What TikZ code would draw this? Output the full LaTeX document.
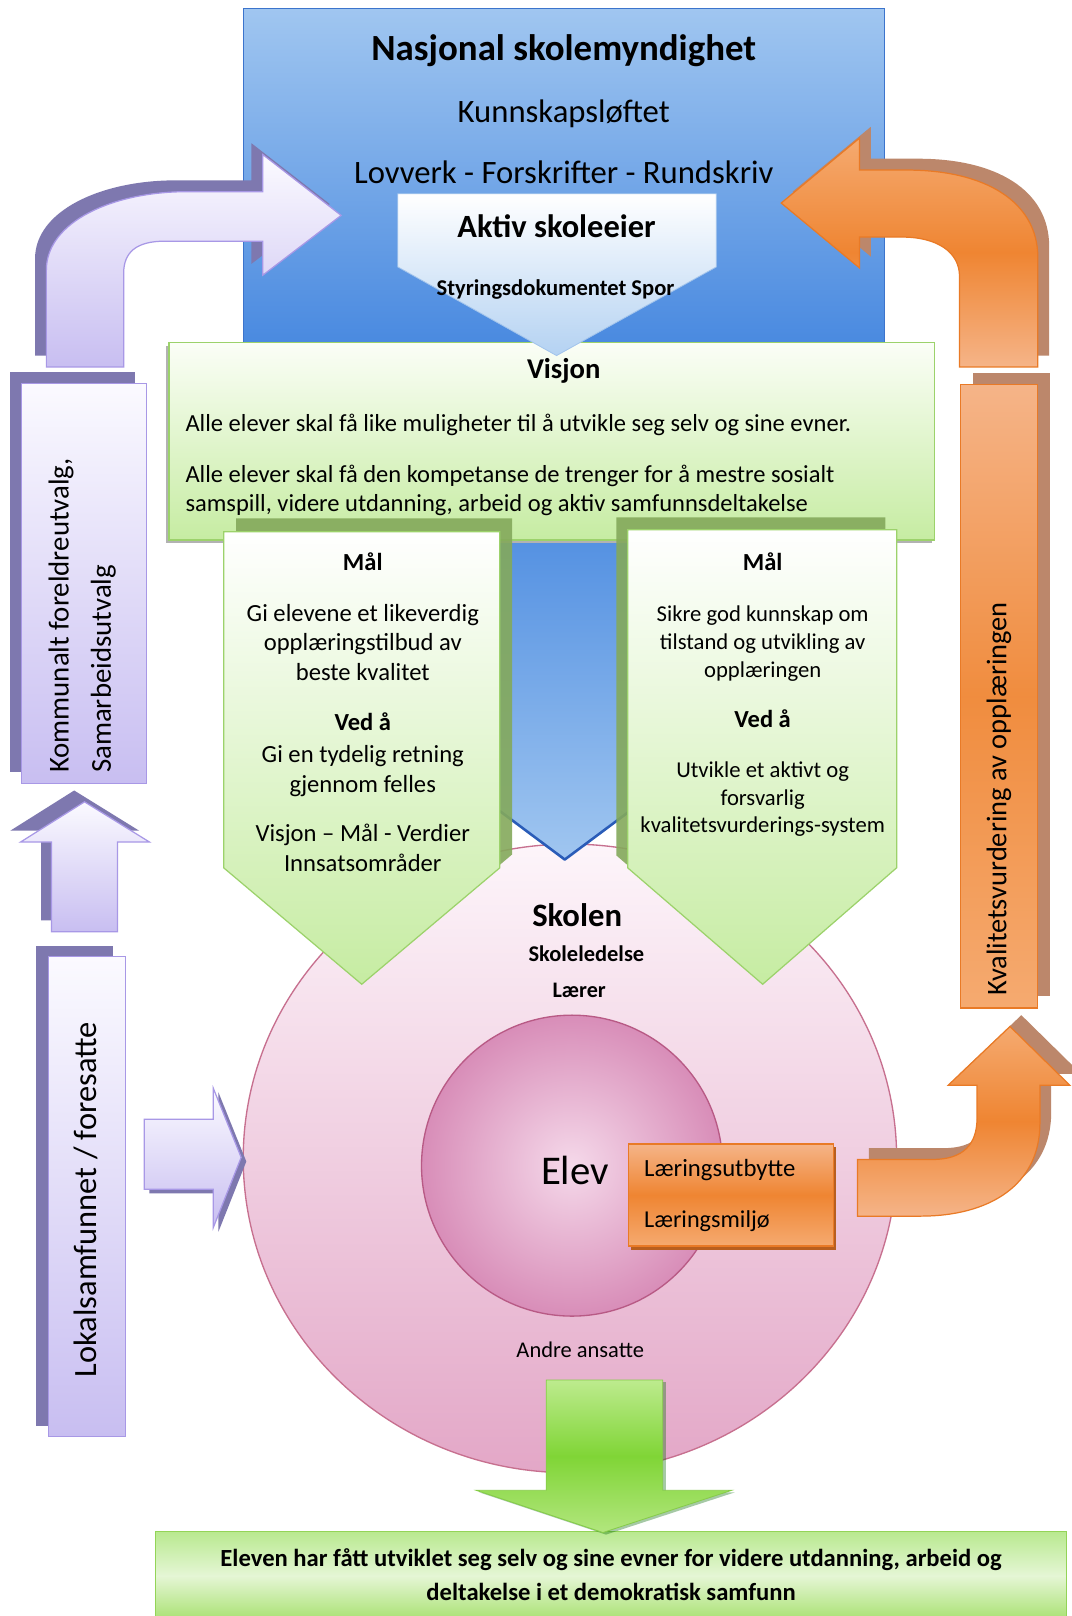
\documentclass[tikz,border=0pt]{standalone}
\usepackage{fontspec}
\setmainfont{Carlito}
\definecolor{blueT}{HTML}{A0C6F0}
\definecolor{blueB}{HTML}{4A8AE0}
\definecolor{blueE}{HTML}{3C74CC}
\definecolor{blueD}{HTML}{2A5CB8}
\definecolor{aktB}{HTML}{B4D2F2}
\definecolor{aktE}{HTML}{A2C4EC}
\definecolor{grT}{HTML}{FBFEF7}
\definecolor{grB}{HTML}{C6ECA2}
\definecolor{grE}{HTML}{9CD26B}
\definecolor{grS}{HTML}{84A95B}
\definecolor{lavL}{HTML}{FBFAFF}
\definecolor{lavD}{HTML}{C8BEF1}
\definecolor{lavE}{HTML}{A898E6}
\definecolor{lavS}{HTML}{7E78AF}
\definecolor{orL}{HTML}{F5AA70}
\definecolor{orM}{HTML}{EF8532}
\definecolor{orL2}{HTML}{F5B488}
\definecolor{orE}{HTML}{E97A26}
\definecolor{orS}{HTML}{BC876B}
\definecolor{orDk}{HTML}{B85F1F}
\definecolor{pkT}{HTML}{FDF5FA}
\definecolor{pkB}{HTML}{E3A7C7}
\definecolor{pkE}{HTML}{C7708F}
\definecolor{pkI}{HTML}{F5D9EA}
\definecolor{pkO}{HTML}{D88DB8}
\definecolor{pkIE}{HTML}{B85A85}
\definecolor{gaT}{HTML}{BDEB8E}
\definecolor{gaM}{HTML}{80D536}
\definecolor{gaB}{HTML}{B2E67E}
\definecolor{gaE}{HTML}{86CC48}
\definecolor{gbT}{HTML}{B9E98F}
\definecolor{gbM}{HTML}{E5F6D5}
\definecolor{gbB}{HTML}{A9E172}
\definecolor{gbE}{HTML}{93D457}
\newcommand{\setfs}[1]{\fontsize{#1}{#1}\selectfont}
\tikzset{
  lbl/.style={inner sep=0pt, outer sep=0pt, anchor=mid, text=black, font=\setfs{#1}, yshift={-0.26*(#1)}},
  blbl/.style={lbl=#1, font=\setfs{#1}\bfseries},
  rlbl/.style={inner sep=0pt, outer sep=0pt, anchor=mid, text=black, rotate=90, font=\setfs{#1}, yshift={-0.26*(#1)}},
  lavface/.style={draw=lavE, line width=1.2pt, top color=lavL, bottom color=lavD},
  lavshadow/.style={fill=lavS},
  orface/.style={draw=orE, line width=1.2pt, top color=orL, bottom color=orL2, middle color=orM},
  orshadow/.style={fill=orS},
  malface/.style={draw=grE, line width=1.2pt, top color=white, bottom color=grB},
  malshadow/.style={fill=grS, opacity=0.9},
}
\begin{document}
\begin{tikzpicture}[x=1pt,y=-1pt]
\useasboundingbox (0,0) rectangle (1040,1568);
\fill[white] (0,0) rectangle (1040,1568);

% national authority box
\draw[blueE, line width=1pt, top color=blueT, bottom color=blueB] (236,8) rectangle (858,332);
\node[blbl=35.8] (title) at (547,47) {Nasjonal skolemyndighet};
\node[lbl=31.7] (kl) at (547,108) {Kunnskapsløftet};
\node[lbl=31.7] (lov) at (547,167) {Lovverk - Forskrifter - Rundskriv};

% purple upper bent arrow
\path[lavshadow, shift={(-11,-11)}] (45,356) -- (45,262) .. controls (45,215) and (110,186) .. (181,186) -- (255,186) -- (255,150) -- (331,209) -- (255,267) -- (255,234) -- (160,234) .. controls (132,234) and (120,245) .. (120,265) -- (120,356) -- cycle;
\path[lavface] (45,356) -- (45,262) .. controls (45,215) and (110,186) .. (181,186) -- (255,186) -- (255,150) -- (331,209) -- (255,267) -- (255,234) -- (160,234) .. controls (132,234) and (120,245) .. (120,265) -- (120,356) -- cycle;

% orange upper bent arrow
\path[orshadow, shift={(11,-11)}] (1007,356) -- (1007,250) .. controls (1007,195) and (955,165) .. (880,165) -- (834,165) -- (834,134) -- (758,197) -- (834,260) -- (834,230) -- (875,230) .. controls (910,230) and (931,245) .. (931,268) -- (931,356) -- cycle;
\path[orface] (1007,356) -- (1007,250) .. controls (1007,195) and (955,165) .. (880,165) -- (834,165) -- (834,134) -- (758,197) -- (834,260) -- (834,230) -- (875,230) .. controls (910,230) and (931,245) .. (931,268) -- (931,356) -- cycle;

% side boxes
\fill[lavS] (10,361) rectangle (131,749);
\draw[lavface] (21,372) rectangle (142,760);
\node[rlbl=28, anchor=mid west] (kom1) at (57,750) {Kommunalt foreldreutvalg,};
\node[rlbl=28, anchor=mid west] (kom2) at (98,750) {Samarbeidsutvalg};

\fill[orS] (944,362) rectangle (1019,966);
\draw[orE, line width=1.2pt, top color=orL2, bottom color=orL, middle color=orM!80!orL] (932,373) rectangle (1007,978);
\node[rlbl=27.6] (kval) at (967,775) {Kvalitetsvurdering av opplæringen};

% school circles
\draw[pkE, line width=1.3pt, top color=pkT, bottom color=pkB] (553,1124) ellipse [x radius=317pt, y radius=305pt];
\draw[pkIE, line width=1.3pt, inner color=pkI, outer color=pkO] (555,1131) circle [radius=146pt];

% blue centre arrow
\fill[top color=blueB, bottom color=blueT] (485,480) -- (611,480) -- (611,787) -- (548,834) -- (485,787) -- cycle;
\draw[blueD, line width=2.5pt, line join=round] (485,787) -- (548,834) -- (611,787);

% vision box
\fill[gray!60] (161,336) rectangle (904,527);
\draw[grE, line width=1.2pt, top color=grT, bottom color=grB] (164,332) rectangle (907,524);

% active school owner
\draw[aktE, line width=0.8pt, top color=white, bottom color=aktB] (386,188) -- (695,188) -- (695,259) -- (540,345) -- (386,259) -- cycle;
\node[blbl=31.5] (aktiv) at (540,220) {Aktiv skoleeier};
\node[blbl=21.9] (styr) at (539,279) {Styringsdokumentet Spor};

\node[blbl=27.8] (visjon) at (547,358) {Visjon};
\node[lbl=23.8, anchor=mid west] (v1) at (180,410) {Alle elever skal få like muligheter til å utvikle seg selv og sine evner.};
\node[lbl=23.8, anchor=mid west] (v2) at (180,460) {Alle elever skal få den kompetanse de trenger for å mestre sosialt};
\node[lbl=23.8, anchor=mid west] (v3) at (180,488) {samspill, videre utdanning, arbeid og aktiv samfunnsdeltakelse};

% goal boxes
\path[malshadow, shift={(12,-13)}] (217,516) -- (485,516) -- (485,842) -- (351,955) -- (217,842) -- cycle;
\path[malface] (217,516) -- (485,516) -- (485,842) -- (351,955) -- (217,842) -- cycle;
\path[malshadow, shift={(-11,-12)}] (609,514) -- (870,514) -- (870,842) -- (740,955) -- (609,842) -- cycle;
\path[malface] (609,514) -- (870,514) -- (870,842) -- (740,955) -- (609,842) -- cycle;

\node[blbl=23.8] (m1h) at (352,545) {Mål};
\foreach \t/\y [count=\i] in {{Gi elevene et likeverdig}/594, {opplæringstilbud av}/623, {beste kvalitet}/652}
  \node[lbl=23.9] (m1a\i) at (352,\y) {\t};
\node[blbl=23.8] (m1v) at (352,700) {Ved å};
\foreach \t/\y [count=\i] in {{Gi en tydelig retning}/731, {gjennom felles}/760, {Visjon – Mål - Verdier}/808, {Innsatsområder}/837}
  \node[lbl=23.9] (m1b\i) at (352,\y) {\t};

\node[blbl=23.8] (m2h) at (740,545) {Mål};
\foreach \t/\y [count=\i] in {{Sikre god kunnskap om}/595, {tilstand og utvikling av}/622, {opplæringen}/649}
  \node[lbl=22] (m2a\i) at (740,\y) {\t};
\node[blbl=23.8] (m2v) at (740,697) {Ved å};
\foreach \t/\y [count=\i] in {{Utvikle et aktivt og}/746, {forsvarlig}/773, {kvalitetsvurderings-system}/800}
  \node[lbl=22] (m2b\i) at (740,\y) {\t};

% school texts
\node[blbl=31.7] (skolen) at (560,888) {Skolen};
\node[blbl=21.8] (ledelse) at (569,925) {Skoleledelse};
\node[blbl=21.5] (laerer) at (562,960) {Lærer};
\node[lbl=39.6, anchor=mid west] (elev) at (525,1137) {Elev};
\node[lbl=21.8] (andre) at (563,1309) {Andre ansatte};

% learning box
\fill[orDk] (612,1113) rectangle (811,1213);
\draw[orE, line width=1.2pt, top color=orL2, bottom color=orL, middle color=orM] (610,1110) rectangle (809,1209);
\node[lbl=24, anchor=mid west] (utb) at (625,1133) {Læringsutbytte};
\node[lbl=23.5, anchor=mid west] (milj) at (625,1183) {Læringsmiljø};

% lower left purple elements
\path[lavshadow, shift={(-10,-11)}] (50,904) -- (50,817) -- (20,817) -- (82,778) -- (145,817) -- (114,817) -- (114,904) -- cycle;
\path[lavface] (50,904) -- (50,817) -- (20,817) -- (82,778) -- (145,817) -- (114,817) -- (114,904) -- cycle;
\fill[lavS] (35,918) rectangle (110,1384);
\draw[lavface] (47,928) rectangle (122,1394);
\node[rlbl=31.5] (lokal) at (83,1164) {Lokalsamfunnet / foresatte};
\path[lavshadow, shift={(5,4)}] (140,1086) -- (207,1086) -- (207,1056) -- (234,1123) -- (207,1191) -- (207,1154) -- (140,1154) -- cycle;
\path[lavface] (140,1086) -- (207,1086) -- (207,1056) -- (234,1123) -- (207,1191) -- (207,1154) -- (140,1154) -- cycle;

% orange lower bent arrow
\path[orshadow, shift={(11,-11)}] (832,1125) -- (905,1125) .. controls (935,1125) and (948,1110) .. (948,1085) -- (948,1053) -- (920,1053) -- (980,996) -- (1038,1053) -- (1009,1053) -- (1009,1090) .. controls (1009,1150) and (960,1180) .. (893,1180) -- (832,1180) -- cycle;
\path[orface] (832,1125) -- (905,1125) .. controls (935,1125) and (948,1110) .. (948,1085) -- (948,1053) -- (920,1053) -- (980,996) -- (1038,1053) -- (1009,1053) -- (1009,1090) .. controls (1009,1150) and (960,1180) .. (893,1180) -- (832,1180) -- cycle;

% outcome box and arrow
\draw[gbE, line width=1.2pt, top color=gbT, bottom color=gbB, middle color=gbM] (151,1486) rectangle (1035,1572);
\fill[green!40!black, opacity=0.35, shift={(3,2)}] (530,1339) -- (643,1339) -- (643,1446) -- (710,1446) -- (585,1487) -- (462,1446) -- (530,1446) -- cycle;
\draw[gaE, line width=0.8pt, top color=gaT, bottom color=gaB, middle color=gaM] (530,1339) -- (643,1339) -- (643,1446) -- (710,1446) -- (585,1487) -- (462,1446) -- (530,1446) -- cycle;
\node[blbl=23.9] (out1) at (593,1511) {Eleven har fått utviklet seg selv og sine evner for videre utdanning, arbeid og};
\node[blbl=23.9] (out2) at (593,1544) {deltakelse i et demokratisk samfunn};
\end{tikzpicture}
\end{document}
